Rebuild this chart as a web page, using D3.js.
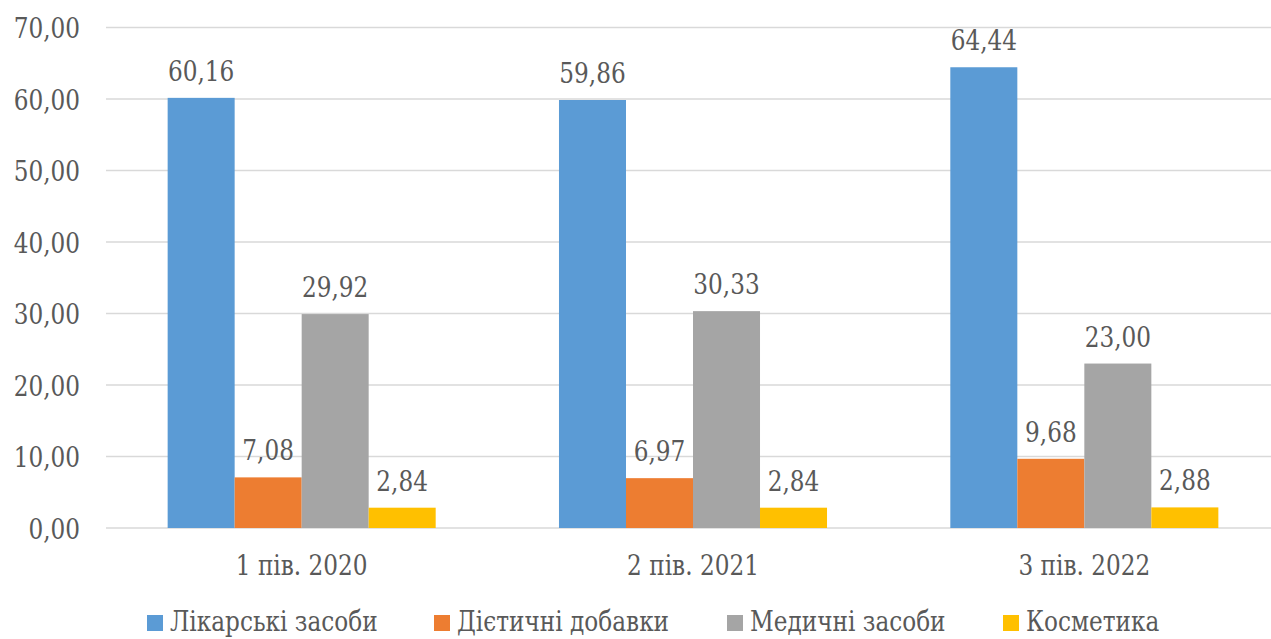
<!DOCTYPE html>
<html>
<head>
<meta charset="utf-8">
<script src="https://cdn.jsdelivr.net/npm/d3@7"></script>
<style>
  html, body { margin: 0; padding: 0; background: #fff; }
  svg { display: block; }
</style>
</head>
<body>
<svg id="chart" width="1271" height="639"></svg>
<script>
// Categories (half-years) and product groups
const categories = ["1 пів. 2020", "2 пів. 2021", "3 пів. 2022"];
const seriesNames = ["Лікарські засоби", "Дієтичні добавки", "Медичні засоби", "Косметика"];
const seriesColors = ["#5B9BD5", "#ED7D31", "#A5A5A5", "#FFC000"];

// Shares per series, one value per category
const likarski = [60.16, 59.86, 64.44];
const dietychni = [7.08, 6.97, 9.68];
const medychni = [29.92, 30.33, 23.00];
const kosmetyka = [2.84, 2.84, 2.88];
const seriesValues = [likarski, dietychni, medychni, kosmetyka];

const yTicks = [0, 10, 20, 30, 40, 50, 60, 70];

const fmt = v => v.toFixed(2).replace(".", ",");

const svg = d3.select("#chart");
const TEXT = "#595959";
const FONT = '"DejaVu Serif", serif';
const FS = 27;
const TARGET_DIGIT = 14.75;       // digit advance of a Times-style 29.5px face

// Horizontal factor that narrows the serif face to Times-like proportions
const probe = svg.append("text").style("font-family", FONT).attr("font-size", FS).text("0000000000");
const SQUEEZE = Math.min(1, TARGET_DIGIT / (probe.node().getComputedTextLength() / 10));
probe.remove();

function styleText(sel) {
  sel.style("font-family", FONT).attr("font-size", FS).attr("fill", TEXT);
  sel.each(function() {
    if (SQUEEZE < 0.995) {
      const w = this.getComputedTextLength();
      d3.select(this).attr("textLength", w * SQUEEZE).attr("lengthAdjust", "spacingAndGlyphs");
    }
  });
}

const plot = { left: 106, right: 1280, top: 27.5, bottom: 528 };

const x0 = d3.scaleBand().domain(categories).range([plot.left, plot.right]).paddingInner(0).paddingOuter(0);
const x1 = d3.scaleBand().domain(seriesNames).range([0, x0.bandwidth()]).paddingInner(0).paddingOuter(0.92);
const y = d3.scaleLinear().domain([0, 70]).range([plot.bottom, plot.top]);

// Horizontal gridlines
svg.append("g")
  .selectAll("line")
  .data(yTicks)
  .join("line")
  .attr("x1", plot.left).attr("x2", plot.right)
  .attr("y1", d => y(d)).attr("y2", d => y(d))
  .attr("stroke", "#d9d9d9").attr("stroke-width", 1.5);

// Y axis labels
const yAxis = d3.axisLeft(y).tickValues(yTicks).tickFormat(fmt).tickSize(0).tickPadding(0);
const yg = svg.append("g").attr("transform", `translate(80,0)`).call(yAxis);
yg.select(".domain").remove();
yg.selectAll("text").attr("dy", 0).attr("y", 10);
styleText(yg.selectAll("text"));

// Category labels
const xAxis = d3.axisBottom(x0).tickSize(0).tickPadding(0);
const xg = svg.append("g").attr("transform", `translate(0,${plot.bottom})`).call(xAxis);
xg.select(".domain").remove();
xg.selectAll("text").attr("y", 47).attr("dy", 0);
styleText(xg.selectAll("text"));

// Bars and value labels
const groups = svg.append("g")
  .selectAll("g")
  .data(categories)
  .join("g")
  .attr("transform", c => `translate(${x0(c)},0)`);

groups.each(function(c, ci) {
  const g = d3.select(this);
  const rows = seriesNames.map((s, si) => ({ s, si, v: seriesValues[si][ci] }));
  g.selectAll("rect")
    .data(rows)
    .join("rect")
    .attr("x", d => x1(d.s))
    .attr("width", x1.bandwidth())
    .attr("y", d => y(d.v))
    .attr("height", d => y(0) - y(d.v))
    .attr("fill", d => seriesColors[d.si]);
  const labels = g.selectAll("text.val")
    .data(rows)
    .join("text")
    .attr("class", "val")
    .attr("x", d => x1(d.s) + x1.bandwidth() / 2)
    .attr("y", d => y(d.v) - 17)
    .attr("text-anchor", "middle")
    .text(d => fmt(d.v));
  styleText(labels);
});

// Legend
const legendX = [147, 434, 727, 1003];
const legend = svg.append("g")
  .selectAll("g")
  .data(seriesNames)
  .join("g")
  .attr("transform", (d, i) => `translate(${legendX[i]},0)`);
legend.append("rect")
  .attr("x", 0).attr("y", 615)
  .attr("width", 16).attr("height", 16)
  .attr("fill", (d, i) => seriesColors[i]);
const legendText = legend.append("text")
  .attr("x", 23).attr("y", 631)
  .text(d => d);
styleText(legendText);
</script>
</body>
</html>
